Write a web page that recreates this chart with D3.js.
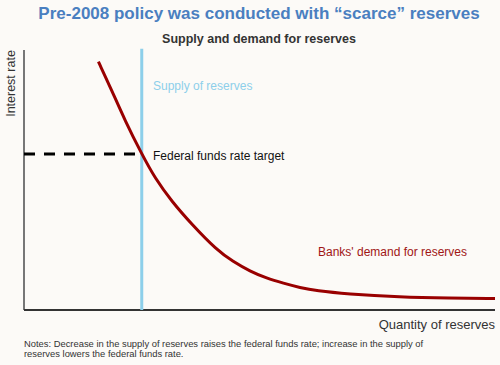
<!DOCTYPE html>
<html>
<head>
<meta charset="utf-8">
<script src="https://cdn.jsdelivr.net/npm/d3@7"></script>
<style>
  body { margin: 0; background: #fcfaf7; }
  svg { display: block; font-family: "Liberation Sans", Arial, sans-serif; }
</style>
</head>
<body>
<svg id="chart" width="500" height="365"></svg>
<script>
// demand curve, quantity vs rate (arbitrary 0-100 units)
const demandQty = [15.8, 18.6, 21.4, 25.0, 27.8, 31.4, 35.6, 40.9, 44.4, 48.0, 51.5, 55.1, 58.6, 62.1, 68.5, 79.8, 90.4, 100];
const demandRate = [95.5, 84.6, 73.0, 60.0, 50.7, 41.7, 33.0, 23.1, 18.6, 14.9, 12.2, 10.3, 8.6, 7.4, 6.2, 5.0, 4.6, 4.4];
const supplyQty = 25;
const targetRate = 60;
const notes = [
  'Notes: Decrease in the supply of reserves raises the federal funds rate; increase in the supply of',
  'reserves lowers the federal funds rate.'
];

const svg = d3.select('#chart');
const plotLeft = 24, plotRight = 495, plotTop = 50, plotBottom = 310;

const x = d3.scaleLinear().domain([0, 100]).range([plotLeft, plotRight]);
const y = d3.scaleLinear().domain([0, 100]).range([plotBottom, plotTop]);

svg.append('text')
   .attr('x', 259).attr('y', 19)
   .attr('text-anchor', 'middle')
   .attr('font-size', 17).attr('font-weight', 'bold')
   .attr('fill', '#4a7fc0')
   .text('Pre-2008 policy was conducted with \u201cscarce\u201d reserves');

svg.append('text')
   .attr('x', 259).attr('y', 43)
   .attr('text-anchor', 'middle')
   .attr('font-size', 12.5).attr('font-weight', 'bold')
   .attr('fill', '#333')
   .text('Supply and demand for reserves');

// axes: plain lines, no ticks
svg.append('line')
   .attr('x1', x(0)).attr('x2', x(0))
   .attr('y1', y(100)).attr('y2', y(0))
   .attr('stroke', '#777').attr('stroke-width', 2);

svg.append('line')
   .attr('x1', x(0)).attr('x2', x(100))
   .attr('y1', y(0)).attr('y2', y(0))
   .attr('stroke', '#333').attr('stroke-width', 2);

svg.append('text')
   .attr('transform', 'translate(15,' + 83.5 + ') rotate(-90)')
   .attr('text-anchor', 'middle')
   .attr('font-size', 12.5).attr('fill', '#333')
   .text('Interest rate');

svg.append('text')
   .attr('x', x(100)).attr('y', 329)
   .attr('text-anchor', 'end')
   .attr('font-size', 13).attr('fill', '#333')
   .text('Quantity of reserves');

// supply line
svg.append('line')
   .attr('x1', x(supplyQty)).attr('x2', x(supplyQty))
   .attr('y1', y(100.5)).attr('y2', y(0))
   .attr('stroke', '#8dcfea').attr('stroke-width', 3);

// target rate
svg.append('line')
   .attr('x1', x(0)).attr('x2', x(supplyQty))
   .attr('y1', y(targetRate)).attr('y2', y(targetRate))
   .attr('stroke', '#000').attr('stroke-width', 3)
   .attr('stroke-dasharray', '11,9');

// demand curve (basis smooths out the read-off noise)
const line = d3.line()
  .x(d => x(d[0]))
  .y(d => y(d[1]))
  .curve(d3.curveBasis);

svg.append('path')
   .datum(d3.zip(demandQty, demandRate))
   .attr('d', line)
   .attr('fill', 'none')
   .attr('stroke', '#990000').attr('stroke-width', 3);

svg.append('text')
   .attr('x', 153).attr('y', 90)
   .attr('font-size', 12).attr('fill', '#8dcfea')
   .text('Supply of reserves');

svg.append('text')
   .attr('x', 153).attr('y', 160)
   .attr('font-size', 12).attr('fill', '#111')
   .text('Federal funds rate target');

svg.append('text')
   .attr('x', 318).attr('y', 256)
   .attr('font-size', 12).attr('fill', '#a01515')
   .text("Banks' demand for reserves");

svg.selectAll('.note')
   .data(notes)
   .enter()
   .append('text')
   .attr('class', 'note')
   .attr('x', 24)
   .attr('y', (d, i) => 347 + i * 10)
   .attr('font-size', 9.4).attr('fill', '#333')
   .text(d => d);
</script>
</body>
</html>
